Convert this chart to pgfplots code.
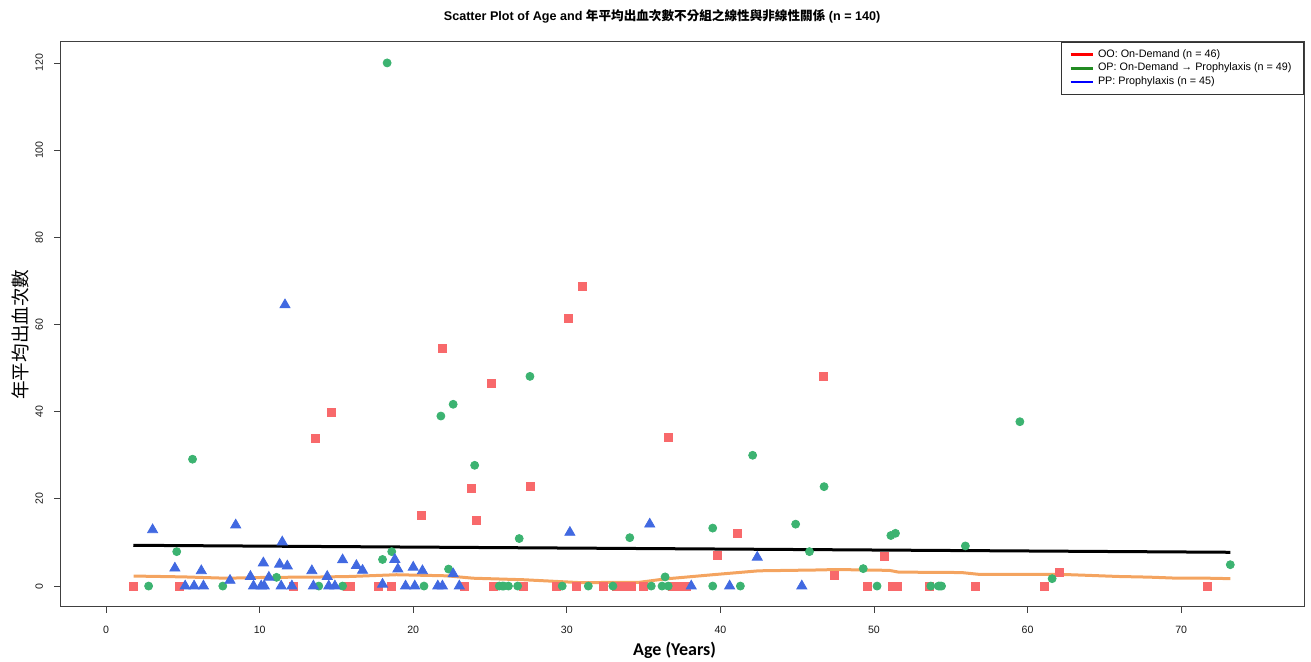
\documentclass[border=0pt]{standalone}
\usepackage{fontspec}
\setmainfont{Liberation Sans}
\newfontfamily\cjk{Noto Sans CJK TC}
\newfontfamily\calibri{Carlito}
\usepackage{pgfplots}
\usepackage{pgfplotstable}
\pgfplotsset{compat=1.18}

\definecolor{sqred}{HTML}{F8696B}
\definecolor{cgreen}{HTML}{3CB371}
\definecolor{tblue}{HTML}{4169E1}
\definecolor{loess}{HTML}{F4A460}
\definecolor{lgreen}{HTML}{228B22}

\pgfplotstableread{
x y
1.77 0
4.8 0
12.2 0
13.6 33.8
14.7 39.8
15.7 0
15.9 0
17.7 0
18.6 0
20.5 16.2
21.9 54.6
23.3 0
23.8 22.5
24.1 15.1
25.1 46.6
25.2 0
27.2 0
27.6 22.9
29.3 0
30.1 61.5
30.6 0
31.0 68.8
32.4 0
33.2 0
33.5 0
33.7 0
34.2 0
35.0 0
36.6 34.1
36.9 0
37.3 0
37.6 0
37.8 0
39.8 7.1
41.1 12.0
46.7 48.0
47.4 2.5
49.6 0
50.7 6.8
51.2 0
51.5 0
53.6 0
56.6 0
61.1 0
62.1 3.1
71.7 0
}\oo

\pgfplotstableread{
x y
2.77 0
4.6 7.9
5.63 29.1
7.6 0
11.1 2.0
13.85 0
15.4 0
18.0 6.1
18.3 120
18.6 7.9
20.7 0
21.8 39.0
22.3 3.9
22.6 41.7
24.0 27.7
25.6 0
25.8 0
25.9 0
26.2 0
26.8 0
26.9 10.9
27.6 48.1
29.7 0
31.4 0
33.0 0
34.1 11.1
35.5 0
36.2 0
36.4 2.1
36.6 0
39.5 13.3
39.5 0
41.3 0
42.1 30.0
44.9 14.2
45.8 7.9
46.75 22.8
49.3 4.0
50.2 0
51.1 11.6
51.4 12.1
53.7 0
54.2 0
54.3 0
54.4 0
55.95 9.2
59.5 37.7
61.6 1.7
73.2 4.9
}\op

\pgfplotstableread{
x y
3.03 12.9
4.48 4.1
5.15 0
5.73 0
6.2 3.5
6.34 0
8.07 1.3
8.44 14.0
9.4 2.2
9.6 0
10.1 0
10.24 5.3
10.3 0
10.6 2.0
11.3 5.0
11.4 0
11.47 10.1
11.65 64.5
11.8 4.6
12.1 0
13.4 3.5
13.5 0
14.4 2.2
14.5 0
14.9 0
15.4 6.0
16.3 4.7
16.7 3.6
18.0 0.4
18.8 6.1
19.0 3.9
19.5 0
20.0 4.3
20.1 0
20.6 3.5
21.6 0
21.9 0
22.6 2.8
23.0 0
30.2 12.3
35.4 14.2
38.1 0
40.6 0
42.4 6.6
45.3 0
}\pp

\pgfplotstableread{
x y
1.8 2.3
5.1 2.1
7.8 1.8
10.5 2.0
13.5 2.05
15.9 2.2
18.9 2.6
22.2 2.35
23.9 1.8
27.2 1.45
30.8 0.8
34.7 0.85
36.3 1.6
39.5 2.6
42.5 3.5
46.5 3.7
47.5 3.8
51.0 3.6
51.6 3.2
55.7 3.1
56.8 2.7
62.0 2.7
64.0 2.45
65.9 2.2
67.9 2.05
69.8 1.8
71.8 1.8
73.2 1.7
}\loesstab

\begin{document}
\begin{tikzpicture}
\begin{axis}[
  scale only axis,
  width=622pt, height=282.5pt,
  xmin=-3, xmax=78, ymin=-4.8, ymax=124.8,
  xtick={0,10,...,70}, ytick={0,20,...,120},
  tick pos=left,
  tick align=outside,
  major tick length=3pt,
  every tick/.style={black!75, line width=0.4pt},
  axis line style={black!75, line width=0.5pt},
  /pgf/number format/assume math mode=true,
  ticklabel style={font=\fontsize{5.3}{6}\selectfont, text=black!90},
  xticklabel shift=3pt,
  yticklabel style={rotate=90, anchor=south},
  yticklabel shift=2pt,
  xlabel={\calibri\bfseries Age (Years)},
  xlabel style={font=\fontsize{9}{10}\selectfont, at={(axis description cs:0.494,-0.0761)}, anchor=center},
  ylabel={\cjk 年平均出血次數},
  ylabel style={font=\fontsize{9.3}{10}\selectfont, at={(axis description cs:-0.0322,0.482)}, anchor=center},
  title={\bfseries Scatter Plot of Age and {\cjk\bfseries 年平均出血次數不分組之線性與非線性關係} (n = 140)},
  title style={font=\fontsize{6.3}{7}\selectfont, at={(axis description cs:0.484,1.025)}, anchor=center},
  legend style={at={(1,1)}, anchor=north east, draw=black!80, line width=0.4pt,
    font=\fontsize{5.4}{6.4}\selectfont, inner xsep=4pt, inner ysep=1.5pt, row sep=-2.6pt,
    cells={anchor=west}},
  legend image code/.code={\draw[#1] (0pt,0pt) -- (11pt,0pt);},
]
\coordinate (bl) at (rel axis cs:0,0);
\coordinate (tr) at (rel axis cs:1,1);
\addplot[only marks, mark=square*, mark size=2pt, color=sqred, forget plot] table {\oo};
\addplot[only marks, mark=*, mark size=2pt, color=cgreen, forget plot] table {\op};
\addplot[only marks, mark=triangle*, mark size=2.9pt, color=tblue, forget plot] table {\pp};
\addplot[black, line width=1.5pt, forget plot] coordinates {(1.77,9.35) (73.2,7.75)};
\addplot[loess, line width=1.5pt, forget plot] table {\loesstab};
\addlegendimage{red, line width=1.4pt}
\addlegendentry{OO: On-Demand (n = 46)}
\addlegendimage{lgreen, line width=1.4pt}
\addlegendentry{OP: On-Demand → Prophylaxis (n = 49)}
\addlegendimage{blue, line width=1.4pt}
\addlegendentry{PP: Prophylaxis (n = 45)}
\end{axis}
\pgfresetboundingbox
\path[use as bounding box] ([xshift=-30pt,yshift=-27.5pt]bl) rectangle ([xshift=3.5pt,yshift=21pt]tr);
\end{tikzpicture}
\end{document}
